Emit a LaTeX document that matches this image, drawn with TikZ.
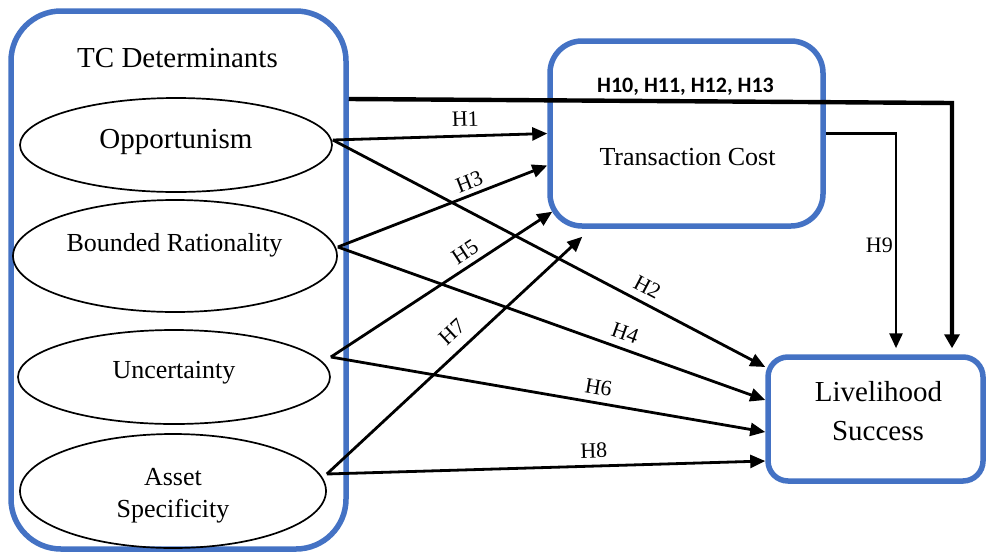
\documentclass[tikz,border=0pt]{standalone}
\usepackage{fontspec}
\setmainfont{Liberation Serif}
\newfontfamily\calibrifont{Carlito}
\usetikzlibrary{arrows.meta,calc,shapes.geometric}
\definecolor{boxblue}{HTML}{4472C4}
\begin{document}
\begin{tikzpicture}[x=1pt,y=-1pt,
  bluebox/.style={draw=boxblue, line width=5.5pt, rectangle, outer sep=2.75pt, inner sep=0pt},
  oval/.style={draw=black, ellipse, line width=1.7pt, inner sep=0pt, outer sep=0.85pt},
  conn/.style={line width=2.8pt, -{Triangle[length=15pt,width=13pt]}},
  thickconn/.style={line width=4.4pt, -{Triangle[length=14pt,width=15pt]}},
  hlab/.style={font=\fontsize{22}{26}\selectfont, inner sep=0pt, sloped},
  big/.style={anchor=base, inner sep=0pt, font=\fontsize{29}{35}\selectfont},
  mid/.style={anchor=base, inner sep=0pt, font=\fontsize{26}{32}\selectfont}]
\fill[white] (0,0) rectangle (987,555);
\useasboundingbox (0,0) rectangle (987,555);

% boxes
\node[bluebox, rounded corners=50pt, minimum width=335pt, minimum height=538pt] (tcd) at (178.5,280) {};
\node[bluebox, rounded corners=32pt, minimum width=273pt, minimum height=185pt] (tc) at (686.5,133.5) {};
\node[bluebox, rounded corners=20pt, minimum width=215pt, minimum height=124pt] (ls) at (875.5,419) {};

% ellipses
\node[oval, minimum width=312pt, minimum height=94pt] (opp) at (176,145) {};
\node[oval, minimum width=324pt, minimum height=112pt] (br) at (175,256) {};
\node[oval, minimum width=312pt, minimum height=94pt] (unc) at (174,377) {};
\node[oval, minimum width=306pt, minimum height=114pt] (as) at (173,491) {};

% texts
\node[big] (tcdt) at (177.5,67) {TC Determinants};
\node[big] (oppt) at (176,148.3) {Opportunism};
\node[mid] (brt) at (174.5,251.7) {Bounded Rationality};
\node[mid] (unct) at (174,378.3) {Uncertainty};
\node[mid] (ast1) at (173,485) {Asset};
\node[mid] (ast2) at (173,517) {Specificity};
\node[mid] (tct) at (687.5,165) {Transaction Cost};
\node[anchor=base, inner sep=0pt, font=\calibrifont\bfseries\fontsize{22}{26}\selectfont] (hmed) at (685.5,92.3) {H10, H11, H12, H13};
\node[big] (lst1) at (878.5,401.7) {Livelihood};
\node[big] (lst2) at (878,440) {Success};

% vertices
\coordinate (ov) at ([yshift=5pt]opp.east);
\coordinate (bv) at ([yshift=9pt]br.east);
\coordinate (uv) at ([yshift=20pt]unc.east);
\coordinate (av) at ([yshift=17pt]as.east);

% connectors to transaction cost
\draw[conn] (ov) -- node[hlab, pos=0.62, above=8.4pt] (h1) {H1} (tc.west);
\draw[conn] (bv) -- node[hlab, pos=0.65, above=4.2pt] (h3) {H3} ([yshift=-32pt]tc.west);
\draw[conn] (uv) -- node[hlab, pos=0.64, above=5.3pt] (h5) {H5} ([xshift=5pt,yshift=17pt]tc.south west);
\draw[conn] (av) -- node[hlab, pos=0.54, above=10.3pt] (h7) {H7} ([xshift=35pt,yshift=-8pt]tc.south west);

% connectors to livelihood success
\draw[conn] (ov) -- node[hlab, pos=0.71, above=7.4pt] (h2) {H2} ([yshift=52pt]ls.west);
\draw[conn] (bv) -- node[hlab, pos=0.66, above=7.2pt] (h4) {H4} ([yshift=19pt]ls.west);
\draw[conn] (uv) -- node[hlab, pos=0.61, above=6.8pt] (h6) {H6} ([yshift=-13pt]ls.west);
\draw[conn] (av) -- node[hlab, pos=0.61, above=6.8pt] (h8) {H8} ([yshift=-42pt]ls.west);

% H9
\coordinate (h9c) at (896,133.5);
\draw[conn, shorten >=6pt] (tc.east) -- (h9c) -- (h9c |- ls.north);
\node[anchor=base east, inner sep=0pt, font=\fontsize{22}{26}\selectfont] (h9) at (893,252) {H9};

% mediation line
\coordinate (ms) at (0,99);
\coordinate (mx) at (952,103);
\draw[thickconn, shorten >=6pt] (tcd.east |- ms) -- (mx) -- (mx |- ls.north);
\end{tikzpicture}
\end{document}
